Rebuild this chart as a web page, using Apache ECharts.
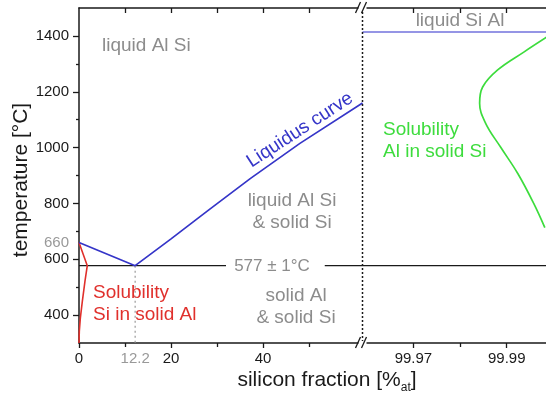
<!DOCTYPE html>
<html><head><meta charset="utf-8">
<script src="https://cdn.jsdelivr.net/npm/echarts@6/dist/echarts.min.js"></script>
<style>html,body{margin:0;padding:0;background:#fff}#c{width:546px;height:394px}</style>
</head><body><div id="c"></div>
<script>
// ---- data ----
const tempRange = [300, 1500];
const tempMajorTicks = [400, 600, 800, 1000, 1200, 1400];
const tempMinorTicks = [500, 700, 900, 1100, 1300];
const tempLabels = [400, 600, 660, 800, 1000, 1200, 1400];
const leftXRange = [0, 61.6];
const leftXMajorTicks = [0, 20, 40];
const leftXMinorTicks = [10, 30, 50];
const leftXLabels = [0, 12.2, 20, 40];
const leftXTopTicks = [10, 20, 30, 40, 50];
const rightXRange = [99.95908, 99.99842];
const rightXMajorTicks = [99.97, 99.99];
const rightXMinorTicks = [99.98];
const rightXTopTicks = [99.97, 99.98, 99.99];
const eutecticX = 12.2;
const eutecticT = 577;
const eutecticGapX = [32.1, 53.4];
const siMeltT = 1414;
const alMeltT = 660;

const liquidusX = [0, 12.2, 20, 28.0, 37.2, 48.0, 61.6];
const liquidusT = [660, 577, 673, 774, 889, 1015, 1160];
const solAlX = [0, 1.8, 1.3, 0.73, 0.29, 0.07, 0];
const solAlT = [660, 577, 522, 450, 389, 342, 300];
const solSiX = [99.9986, 99.99366, 99.98806, 99.98484, 99.98419, 99.98548, 99.98871, 99.99237, 99.99581, 99.99817];
const solSiT = [1396, 1342, 1278, 1217, 1159, 1087, 1001, 907, 799, 713];

// ---- chart ----
const zip = (xs, ys) => xs.map((x, i) => [x, ys[i]]);
const FONT = '"Liberation Sans", Arial, sans-serif';
const GRAY = '#8c8c8c';
const BLACK = '#1a1a1a';
const chart = echarts.init(document.getElementById('c'), null, {renderer: 'canvas'});

const baseX = (grid, pos, range, extra) => Object.assign({
  type: 'value', gridIndex: grid, position: pos, min: range[0], max: range[1],
  splitLine: {show: false},
  axisLine: {show: true, lineStyle: {color: BLACK, width: 1.5}},
  axisLabel: {show: false},
  axisTick: {show: false}
}, extra);

const option = {
  animation: false,
  backgroundColor: '#fff',
  grid: [
    {left: 79, top: 8, width: 283.5, height: 335},
    {left: 362.5, top: 8, width: 183.5, height: 335}
  ],
  xAxis: [
    baseX(0, 'bottom', leftXRange, {
      axisTick: {show: true, customValues: leftXMajorTicks, length: 5, lineStyle: {color: BLACK, width: 1.3}},
      axisLabel: {show: true, customValues: leftXLabels, fontSize: 15, fontFamily: FONT, margin: 8,
        formatter: v => String(v),
        color: v => (+v === eutecticX ? '#999' : BLACK)}
    }),
    baseX(0, 'bottom', leftXRange, {
      axisLine: {show: false},
      axisTick: {show: true, customValues: leftXMinorTicks, length: 4, lineStyle: {color: BLACK, width: 1.3}}
    }),
    baseX(0, 'top', leftXRange, {
      axisTick: {show: true, inside: true, customValues: leftXTopTicks, length: 5, lineStyle: {color: BLACK, width: 1.3}}
    }),
    baseX(1, 'bottom', rightXRange, {
      axisTick: {show: true, customValues: rightXMajorTicks, length: 5, lineStyle: {color: BLACK, width: 1.3}},
      axisLabel: {show: true, customValues: rightXMajorTicks, fontSize: 15, fontFamily: FONT, margin: 8, color: BLACK,
        formatter: v => (+v).toFixed(2)}
    }),
    baseX(1, 'bottom', rightXRange, {
      axisLine: {show: false},
      axisTick: {show: true, customValues: rightXMinorTicks, length: 4, lineStyle: {color: BLACK, width: 1.3}}
    }),
    baseX(1, 'top', rightXRange, {
      axisTick: {show: true, inside: true, customValues: rightXTopTicks, length: 5, lineStyle: {color: BLACK, width: 1.3}}
    })
  ],
  yAxis: [
    {type: 'value', gridIndex: 0, position: 'left', min: tempRange[0], max: tempRange[1],
      splitLine: {show: false},
      axisLine: {show: true, lineStyle: {color: BLACK, width: 1.5}},
      axisTick: {show: true, customValues: tempMajorTicks, length: 6, lineStyle: {color: BLACK, width: 1.3}},
      axisLabel: {show: true, customValues: tempLabels, fontSize: 15, fontFamily: FONT, margin: 10,
        formatter: v => String(v),
        color: v => (+v === alMeltT ? '#999' : BLACK)}
    },
    {type: 'value', gridIndex: 0, position: 'left', min: tempRange[0], max: tempRange[1],
      splitLine: {show: false}, axisLine: {show: false}, axisLabel: {show: false},
      axisTick: {show: true, customValues: tempMinorTicks, length: 3, lineStyle: {color: BLACK, width: 1.3}}
    },
    {type: 'value', gridIndex: 1, min: tempRange[0], max: tempRange[1], show: false}
  ],
  series: [
    {type: 'line', xAxisIndex: 0, yAxisIndex: 0, symbol: 'none', data: [[leftXRange[0], eutecticT], [eutecticGapX[0], eutecticT]],
      lineStyle: {color: BLACK, width: 1.2}},
    {type: 'line', xAxisIndex: 0, yAxisIndex: 0, symbol: 'none', data: [[eutecticGapX[1], eutecticT], [leftXRange[1], eutecticT]],
      lineStyle: {color: BLACK, width: 1.2}},
    {type: 'line', xAxisIndex: 3, yAxisIndex: 2, symbol: 'none', data: [[rightXRange[0], eutecticT], [rightXRange[1], eutecticT]],
      lineStyle: {color: BLACK, width: 1.2}},
    {type: 'line', xAxisIndex: 0, yAxisIndex: 0, symbol: 'none', data: [[eutecticX, eutecticT], [eutecticX, tempRange[0]]],
      lineStyle: {color: '#999', width: 1.2, type: [2, 3]}},
    {type: 'line', xAxisIndex: 0, yAxisIndex: 0, symbol: 'none', data: zip(solAlX, solAlT),
      lineStyle: {color: '#e0302c', width: 1.6}},
    {type: 'line', xAxisIndex: 0, yAxisIndex: 0, symbol: 'none', data: zip(liquidusX, liquidusT),
      lineStyle: {color: '#3535c8', width: 1.7}},
    {type: 'line', xAxisIndex: 3, yAxisIndex: 2, symbol: 'none', data: [[rightXRange[0], siMeltT], [rightXRange[1], siMeltT]],
      lineStyle: {color: '#7272dc', width: 1.5}},
    {type: 'line', xAxisIndex: 3, yAxisIndex: 2, symbol: 'none', smooth: 0.4, data: zip(solSiX, solSiT),
      lineStyle: {color: '#3ddc3d', width: 1.7}}
  ]
};
chart.setOption(option);

// ---- annotations ----
const bx = chart.convertToPixel({gridIndex: 0}, [leftXRange[1], tempRange[0]])[0];
const yTop = chart.convertToPixel({gridIndex: 0}, [0, tempRange[1]])[1];
const yBot = chart.convertToPixel({gridIndex: 0}, [0, tempRange[0]])[1];
const txt = (text, x, y, fill, size, align, extra) => Object.assign({
  type: 'text', z: 100,
  style: {text, x, y, fill, font: size + 'px ' + FONT, align: align || 'left', verticalAlign: 'middle'}
}, extra || {});
const breakMark = (yc) => [
  {type: 'rect', z: 90, shape: {x: bx - 4, y: yc - 2, width: 8, height: 4}, style: {fill: '#fff'}},
  {type: 'line', z: 91, shape: {x1: bx - 7, y1: yc + 5, x2: bx - 2, y2: yc - 6}, style: {stroke: BLACK, lineWidth: 1.3}},
  {type: 'line', z: 91, shape: {x1: bx - 1, y1: yc + 5, x2: bx + 4, y2: yc - 6}, style: {stroke: BLACK, lineWidth: 1.3}}
];
chart.setOption({
  graphic: [
    {type: 'line', z: 80, shape: {x1: bx, y1: yTop, x2: bx, y2: yBot}, style: {stroke: BLACK, lineWidth: 1.5, lineDash: [2, 2]}},
    ...breakMark(yTop),
    ...breakMark(yBot),
    txt('liquid Al Si', 102, 46, GRAY, 19),
    txt('liquid Al Si', 292, 201, GRAY, 19, 'center'),
    txt('& solid Si', 292, 223, GRAY, 19, 'center'),
    {type: 'rect', z: 95, shape: {x: 226, y: 258, width: 95, height: 16}, style: {fill: '#fff'}},
    txt('577 \u00b1 1\u00b0C', 272, 266, GRAY, 17, 'center'),
    txt('solid Al', 296, 296, GRAY, 19, 'center'),
    txt('& solid Si', 296, 318, GRAY, 19, 'center'),
    txt('liquid Si Al', 460, 21, GRAY, 19, 'center'),
    txt('Solubility', 93, 293, '#e0302c', 19),
    txt('Si in solid Al', 93, 315, '#e0302c', 19),
    txt('Solubility', 383, 130, '#3ddc3d', 19),
    txt('Al in solid Si', 383, 152, '#3ddc3d', 19),
    txt('Liquidus curve', 300, 130, '#3535c8', 19, 'center', {rotation: 33 * Math.PI / 180, originX: 300, originY: 130}),
    txt('temperature [\u00b0C]', 21, 180, BLACK, 21, 'center', {rotation: Math.PI / 2, originX: 21, originY: 180}),
    {type: 'text', z: 100, style: {
      x: 327, y: 380, align: 'center', verticalAlign: 'middle',
      text: '{a|silicon fraction [%}{s|at}{a|]}',
      rich: {
        a: {fontSize: 21, fontFamily: FONT, fill: BLACK, lineHeight: 28},
        s: {fontSize: 12, fontFamily: FONT, fill: BLACK, lineHeight: 28, verticalAlign: 'bottom'}
      }
    }}
  ]
});
</script>
</body></html>
